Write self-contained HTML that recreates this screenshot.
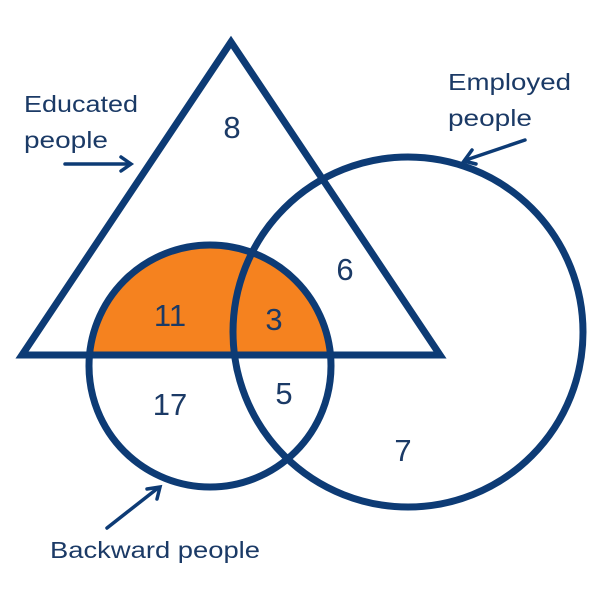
<!DOCTYPE html>
<html><head><meta charset="utf-8"><style>body{margin:0;background:#fff}svg{display:block}</style></head><body>
<svg width="600" height="600" viewBox="0 0 600 600" xmlns="http://www.w3.org/2000/svg">
<defs><clipPath id="up"><rect x="0" y="0" width="600" height="356"/></clipPath></defs>
<circle cx="210" cy="366" r="119" fill="#f5821f" clip-path="url(#up)"/>
<g fill="none" stroke="#0d3b75" stroke-width="7">
<polygon points="231,42 22,355 440,355" stroke-linejoin="miter"/>
<circle cx="408" cy="332" r="175"/>
<circle cx="210" cy="366" r="121"/>
</g>
<g stroke="#0d3b75" stroke-width="3.5" fill="none" stroke-linecap="round">
<line x1="65" y1="164" x2="130" y2="164"/><polyline points="121,157 131,164 121,171"/>
<line x1="525" y1="140" x2="466" y2="160"/><polyline points="472,150 464,161 476,164"/>
<line x1="107" y1="528" x2="158" y2="488"/><polyline points="147,489 160,487 157,499"/>
</g>
<g font-family="Liberation Sans, sans-serif" fill="#1b3a66" font-size="23">
<text x="24" y="112" textLength="114" lengthAdjust="spacingAndGlyphs">Educated</text><text x="24" y="148" textLength="84" lengthAdjust="spacingAndGlyphs">people</text>
<text x="448" y="90" textLength="123" lengthAdjust="spacingAndGlyphs">Employed</text><text x="448" y="126" textLength="84" lengthAdjust="spacingAndGlyphs">people</text>
<text x="50" y="558" textLength="210" lengthAdjust="spacingAndGlyphs">Backward people</text>
</g>
<g font-family="Liberation Sans, sans-serif" fill="#1b3a66" font-size="31" text-anchor="middle">
<text x="232" y="138">8</text><text x="345" y="280">6</text>
<text x="170" y="326">11</text><text x="274" y="330">3</text>
<text x="170" y="415">17</text><text x="284" y="404">5</text>
<text x="403" y="461">7</text>
</g>
</svg>
</body></html>
